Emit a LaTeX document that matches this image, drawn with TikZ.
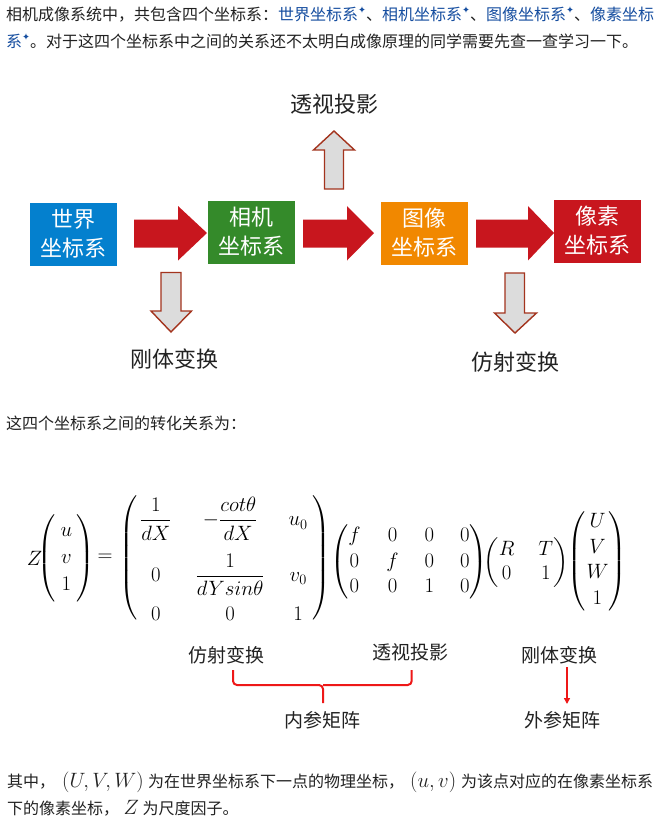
\documentclass[tikz,border=0pt]{standalone}
\usepackage[no-math]{fontspec}
\usepackage{amsmath}
\newfontfamily\cjk{Noto Sans CJK SC}
\newfontfamily\starfont{DejaVu Sans}
\usetikzlibrary{arrows.meta}
\definecolor{linkblue}{RGB}{22,78,160}
\definecolor{txt}{RGB}{34,34,34}
\definecolor{boxblue}{RGB}{4,128,206}
\definecolor{boxgreen}{RGB}{52,138,42}
\definecolor{boxorange}{RGB}{241,136,0}
\definecolor{boxred}{RGB}{200,22,30}
\definecolor{grayfill}{RGB}{220,220,220}
\definecolor{grayline}{RGB}{163,52,30}
\definecolor{brred}{RGB}{238,24,24}
\newcommand\lstar{\raisebox{0.42em}{\starfont\fontsize{9.5}{9.5}\selectfont ✦}}
\newcommand\tallparen[2]{$\left#1\vcenter{\hbox{\rule{0pt}{#2}}}\right.$}
\begin{document}
\begin{tikzpicture}[x=1pt,y=-1pt,
  body/.style={inner sep=0pt, anchor=base west, text=txt, font=\cjk\fontsize{16}{19}\selectfont},
  mth/.style={inner sep=0pt, anchor=base west, text=txt, font=\fontsize{22}{26}\selectfont},
  eqn/.style={inner sep=0pt, text=black, font=\fontsize{22}{27}\selectfont},
  cbox/.style={minimum width=87pt, minimum height=63pt, inner sep=0pt, text=white, align=center, font=\cjk\fontsize{22}{29}\selectfont},
  lbl/.style={inner sep=0pt, text=txt, font=\cjk\fontsize{22}{26}\selectfont},
  slbl/.style={inner sep=0pt, text=txt, font=\cjk\fontsize{19}{22}\selectfont},
  redarr/.style={fill=boxred, draw=none},
  grayarr/.style={fill=grayfill, draw=grayline, line width=1.4pt, line join=miter},
  bracepath/.style={draw=brred, line width=2pt, rounded corners=4pt}
]
\useasboundingbox (0,0) rectangle (661,820);
\fill[white] (0,0) rectangle (661,820);

% top paragraph
\node[body] (p1) at (6,20) {相机成像系统中，共包含四个坐标系：\textcolor{linkblue}{世界坐标系\lstar}、\textcolor{linkblue}{相机坐标系\lstar}、\textcolor{linkblue}{图像坐标系\lstar}、\textcolor{linkblue}{像素坐标}};
\node[body] (p2) at (6,47) {\textcolor{linkblue}{系\lstar}。对于这四个坐标系中之间的关系还不太明白成像原理的同学需要先查一查学习一下。};

% boxes
\node[cbox, fill=boxblue] (world) at (73.5,234) {世界\\坐标系};
\node[cbox, fill=boxgreen] (cam) at (251,232) {相机\\坐标系};
\node[cbox, fill=boxorange] (img) at (424.5,233) {图像\\坐标系};
\node[cbox, fill=boxred] (pix) at (597.5,231) {像素\\坐标系};

% red block arrows
\path[redarr] (134,219.5) -- (178,219.5) -- (178,206) -- (207,233) -- (178,260.5) -- (178,247.5) -- (134,247.5) -- cycle;
\path[redarr] (303,219.5) -- (347,219.5) -- (347,206) -- (374,233) -- (347,260.5) -- (347,247.5) -- (303,247.5) -- cycle;
\path[redarr] (476,219.5) -- (528,219.5) -- (528,206) -- (554,233) -- (528,260.5) -- (528,247.5) -- (476,247.5) -- cycle;

% gray arrows
\draw[grayarr] (324.5,189) -- (324.5,150) -- (313.5,150) -- (334,131) -- (354.5,150) -- (343.5,150) -- (343.5,189) -- cycle;
\draw[grayarr] (161,272.5) -- (161,311) -- (151,311) -- (171,332) -- (191.5,311) -- (181,311) -- (181,272.5) -- cycle;
\draw[grayarr] (505,273) -- (505,313) -- (494.5,313) -- (515,333) -- (536.5,313) -- (524.5,313) -- (524.5,273) -- cycle;

\node[lbl] (proj) at (334,104) {透视投影};
\node[lbl] (rigid) at (174.5,359) {刚体变换};
\node[lbl] (affine) at (515,362) {仿射变换};

% second paragraph
\node[body] (p3) at (6,429) {这四个坐标系之间的转化关系为：};

% equation, piece by piece
\node[eqn] (eqZ) at (34.5,558) {$Z$};
\node[eqn] (eqvec) at (66.5,558) {$\begin{pmatrix}\mkern4mu u\mkern4mu\\ v\\ 1\end{pmatrix}$};
\node[eqn] (eqeq) at (105,558) {$=$};
\node[eqn] (eqKl) at (129,558) {\tallparen{(}{128pt}};
\node[eqn] (eqK) at (224,563) {$\setlength\arraycolsep{12pt}\begin{matrix}\dfrac{1}{dX} & -\dfrac{cot\theta}{dX} & u_0\\[20pt]
0 & \dfrac{1}{dYsin\theta} & v_0\\[12pt]
0 & 0 & 1\end{matrix}$};
\node[eqn] (eqKr) at (322,558) {\tallparen{)}{128pt}};
\node[eqn, font=\fontsize{22}{25.5}\selectfont] (eqP) at (409,562) {$\setlength\arraycolsep{13pt}\begin{pmatrix}f&0&0&0\\0&f&0&0\\0&0&1&0\end{pmatrix}$};
\node[eqn, font=\fontsize{22}{24}\selectfont] (eqRT) at (526,563) {$\setlength\arraycolsep{12pt}\begin{pmatrix}R&T\\0&1\end{pmatrix}$};
\node[eqn, font=\fontsize{22}{25.5}\selectfont] (eqW) at (597.5,561) {$\begin{pmatrix}\mkern3mu U\mkern3mu\\V\\W\\1\end{pmatrix}$};

% labels under equation
\node[slbl] (aff2) at (226.5,655) {仿射变换};
\node[slbl] (proj2) at (410.5,652) {透视投影};
\node[slbl] (rig2) at (559.5,655) {刚体变换};
\node[slbl] (intr) at (322.5,720) {内参矩阵};
\node[slbl] (extr) at (562,720) {外参矩阵};

\coordinate (bl) at (233,670);
\coordinate (br) at (411.7,670);
\coordinate (bm) at (323,685);
\coordinate (bt) at (323,703);
\path[bracepath] (bl) |- (bm) -- (bt);
\path[bracepath] (br) |- (bm);
\coordinate (as) at (567,667);
\coordinate (ae) at (567,704);
\draw[draw=brred, line width=2pt, -{Triangle[length=6pt,width=6pt]}] (as) -- (ae);

% bottom paragraph
\node[body] (q1) at (7,787) {其中，};
\node[mth] (q2) at (62,787) {$(U,V,W)$};
\node[body] (q3) at (148,787) {为在世界坐标系下一点的物理坐标，};
\node[mth] (q4) at (410,787) {$(u,v)$};
\node[body] (q5) at (461,787) {为该点对应的在像素坐标系};
\node[body] (q6) at (7,814) {下的像素坐标，};
\node[mth] (q7) at (123.5,814) {$Z$};
\node[body] (q8) at (142.5,814) {为尺度因子。};
\end{tikzpicture}
\end{document}
